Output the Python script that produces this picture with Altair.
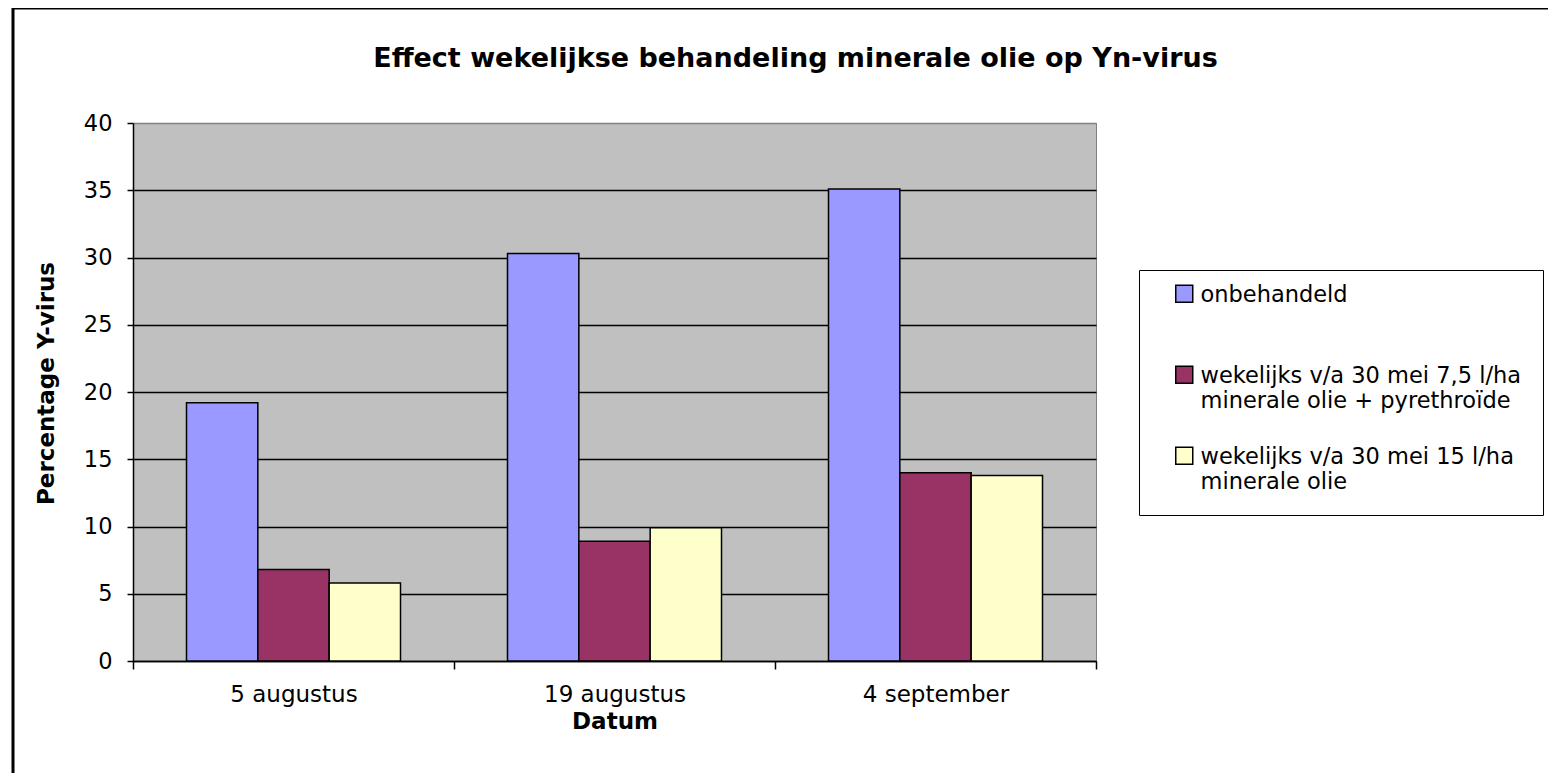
import altair as alt
import pandas as pd

# ---- data ----
dates = ["5 augustus", "19 augustus", "4 september"]
series = [
    "onbehandeld",
    "wekelijks v/a 30 mei 7,5 l/ha minerale olie + pyrethroïde",
    "wekelijks v/a 30 mei 15 l/ha minerale olie",
]
onbehandeld = [19.2, 30.3, 35.1]
olie_pyrethroide = [6.8, 8.9, 14.0]
olie_15 = [5.8, 9.9, 13.8]
legend_lines = [
    ["onbehandeld", " "],
    ["wekelijks v/a 30 mei 7,5 l/ha", "minerale olie + pyrethroïde"],
    ["wekelijks v/a 30 mei 15 l/ha", "minerale olie"],
]
colors = ["#9999FF", "#993366", "#FFFFCC"]
y_ticks = [0, 5, 10, 15, 20, 25, 30, 35, 40]

title_text = "Effect wekelijkse behandeling minerale olie op Yn-virus"
x_title = "Datum"
y_title = "Percentage Y-virus"

rows = []
for s, vals in zip(series, [onbehandeld, olie_pyrethroide, olie_15]):
    for d, v in zip(dates, vals):
        rows.append({"Datum": d, "Behandeling": s, "Percentage": v})
df = pd.DataFrame(rows)


def js_str(s):
    return "'" + s.replace("'", "\\'") + "'"


label_expr = ""
for s, lines in zip(series[:-1], legend_lines[:-1]):
    label_expr += "datum.label === %s ? [%s] : " % (js_str(s), ", ".join(js_str(l) for l in lines))
label_expr += "[%s]" % ", ".join(js_str(l) for l in legend_lines[-1])

FONT = "DejaVu Sans"
W, H = 963, 538

bars = alt.Chart(df).mark_bar(stroke="black", strokeWidth=1.5).encode(
    x=alt.X(
        "Datum:N",
        sort=dates,
        scale=alt.Scale(paddingInner=0, paddingOuter=0),
        axis=alt.Axis(
            title=x_title,
            labelAngle=0,
            tickBand="extent",
            tickSize=8,
            tickWidth=1.5,
            tickColor="black",
            domainColor="black",
            domainWidth=1.5,
            labelFont=FONT,
            labelFontSize=23,
            labelColor="black",
            labelPadding=14,
            titleFont=FONT,
            titleFontSize=23,
            titleFontWeight="bold",
            titleColor="black",
            titleY=60,
            titleBaseline="middle",
            grid=False,
        ),
    ),
    xOffset=alt.XOffset(
        "Behandeling:N",
        sort=series,
        scale=alt.Scale(paddingInner=0, paddingOuter=0.75),
    ),
    y=alt.Y(
        "Percentage:Q",
        scale=alt.Scale(domain=[0, 40], nice=False),
        axis=alt.Axis(
            title=y_title,
            values=y_ticks,
            tickSize=6,
            tickWidth=1.5,
            tickColor="black",
            domainColor="black",
            domainWidth=1.5,
            gridColor={"condition": {"test": "datum.value === 40", "value": "#808080"}, "value": "black"},
            gridWidth=1.5,
            gridOpacity=1,
            labelFont=FONT,
            labelFontSize=22.5,
            labelColor="black",
            labelPadding=15,
            titleFont=FONT,
            titleFontSize=23,
            titleFontWeight="bold",
            titleColor="black",
            titleX=-87,
            titleY=260,
            titleBaseline="middle",
        ),
    ),
    color=alt.Color(
        "Behandeling:N",
        sort=series,
        scale=alt.Scale(domain=series, range=colors),
        legend=alt.Legend(
            title=None,
            orient="none",
            legendX=1006,
            legendY=147,
            padding=21,
            fillColor="white",
            strokeColor="black",
            symbolType="M-1,-2H1V0H-1Z",
            symbolSize=289,
            symbolStrokeColor="black",
            symbolStrokeWidth=1.5,
            symbolOffset=13,
            labelOffset=5,
            labelFont=FONT,
            labelFontSize=22.5,
            labelColor="black",
            labelBaseline="alphabetic",
            labelLimit=800,
            labelExpr=label_expr,
            rowPadding=31,
        ),
    ),
)

frame = alt.Chart(pd.DataFrame({"k": [0]})).mark_rect(
    fill="white", fillOpacity=0, stroke="black", strokeWidth=3
).encode(
    x=alt.value(-120), x2=alt.value(1440), y=alt.value(-115), y2=alt.value(720)
)

chart = (
    alt.layer(bars, frame)
    .properties(
        width=W,
        height=H,
        title=alt.Title(
            title_text,
            font=FONT,
            fontSize=27,
            fontWeight="bold",
            color="black",
            anchor="middle",
            frame="group",
            dx=181,
            dy=66,
            offset=0,
        ),
        autosize=alt.AutoSizeParams(type="none"),
        padding={"left": 125, "top": 115, "right": 452, "bottom": 112},
        background="white",
    )
    .configure_view(fill="#C0C0C0", stroke="#808080", strokeWidth=1)
)

chart.save("out.html", embed_options={"renderer": "svg", "actions": False})
